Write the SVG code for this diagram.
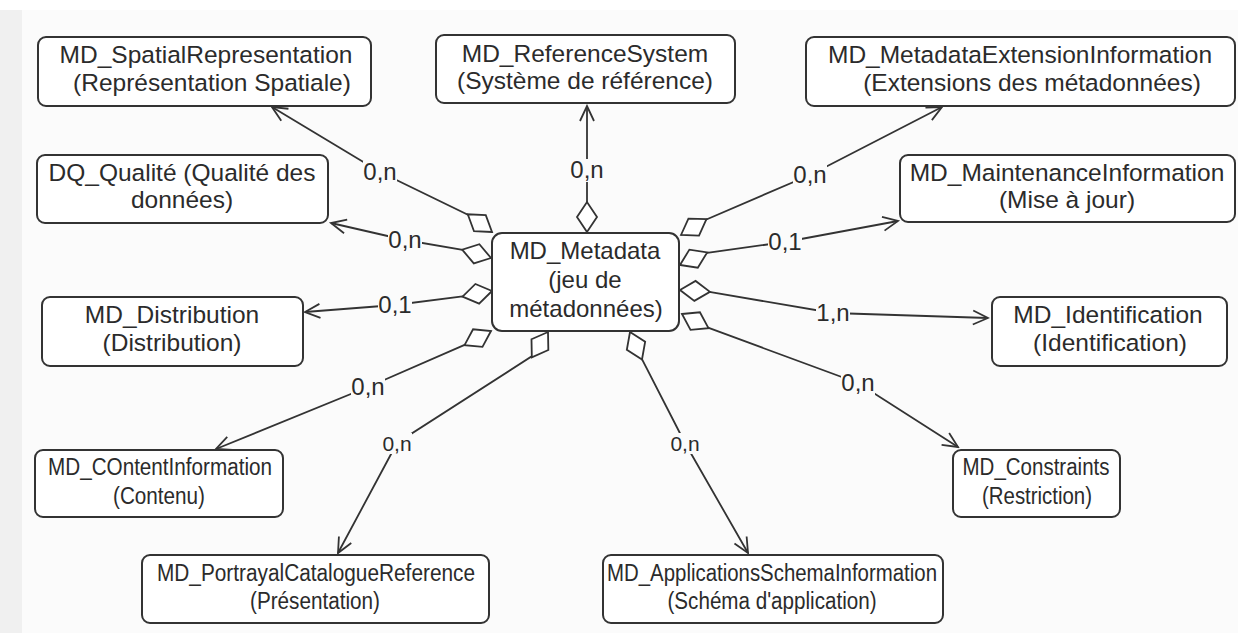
<svg xmlns="http://www.w3.org/2000/svg" width="1238" height="639" viewBox="0 0 1238 639">
<style>
.box{fill:#ffffff;stroke:#333333;stroke-width:2}
.t{font-family:"Liberation Sans",Arial,sans-serif;font-size:24.5px;fill:#2b2b2b;text-anchor:middle}
.ts{font-size:23.5px}
.tc{font-size:24px}
.con{fill:none;stroke:#333333;stroke-width:1.8}
.lb{fill:#fbfbfb}
.lbl{font-family:"Liberation Sans",Arial,sans-serif;font-size:24px;fill:#2b2b2b;text-anchor:middle}
.lbls{font-size:21px}
</style>
<defs>
<marker id="dia" markerUnits="userSpaceOnUse" viewBox="-2 -13 34 26" markerWidth="34" markerHeight="26" refX="0" refY="0" orient="auto">
<path d="M0,0 L15,-10 L30,0 L15,10 Z" fill="#ffffff" stroke="#333333" stroke-width="1.8"/>
</marker>
<marker id="arr" markerUnits="userSpaceOnUse" viewBox="-18 -10 20 20" markerWidth="20" markerHeight="20" refX="0" refY="0" orient="auto">
<path d="M-15,-7 L0,0 L-15,7" fill="none" stroke="#333333" stroke-width="1.8"/>
</marker>
</defs>
<rect x="0" y="0" width="1238" height="639" fill="#fbfbfb"/>
<rect x="0" y="0" width="1238" height="10" fill="#ffffff"/>
<rect x="0" y="10" width="22" height="623" fill="#f0f0f0"/>
<rect x="0" y="633" width="1238" height="6" fill="#ffffff"/>

<g id="connectors">
<polyline class="con" marker-start="url(#dia)" marker-end="url(#arr)" points="492,232 469.4,215.5 380,172 272,107"/>
<polyline class="con" marker-start="url(#dia)" marker-end="url(#arr)" points="491,258 464.1,250.2 405,240 331,223"/>
<polyline class="con" marker-start="url(#dia)" marker-end="url(#arr)" points="492,291 464.5,296.2 395,305 305,312"/>
<polyline class="con" marker-start="url(#dia)" marker-end="url(#arr)" points="491,331 466.3,344.2 368,387 216,449"/>
<polyline class="con" marker-start="url(#dia)" marker-end="url(#arr)" points="548,332 532.9,355.6 397,443 338,553"/>
<polyline class="con" marker-start="url(#dia)" marker-end="url(#arr)" points="630,332 641.2,357.7 685,443 748,553"/>
<polyline class="con" marker-start="url(#dia)" marker-end="url(#arr)" points="682,314 706.7,327.2 858,383 958,447"/>
<polyline class="con" marker-start="url(#dia)" marker-end="url(#arr)" points="680,290 707.9,291.7 833,313 988,318"/>
<polyline class="con" marker-start="url(#dia)" marker-end="url(#arr)" points="680,265 705.4,253.2 785,242 898,221"/>
<polyline class="con" marker-start="url(#dia)" marker-end="url(#arr)" points="681,235 704.7,220.2 810,175 942,107"/>
<polyline class="con" marker-start="url(#dia)" marker-end="url(#arr)" points="587,232 587,204 587,170 587,106"/>
<rect class="lb" x="363" y="161" width="34" height="23"/>
<rect class="lb" x="388" y="229" width="34" height="23"/>
<rect class="lb" x="378" y="294" width="34" height="23"/>
<rect class="lb" x="351" y="376" width="34" height="23"/>
<rect class="lb" x="382" y="433" width="30" height="21"/>
<rect class="lb" x="670" y="433" width="30" height="21"/>
<rect class="lb" x="841" y="372" width="34" height="23"/>
<rect class="lb" x="816" y="302" width="34" height="23"/>
<rect class="lb" x="768" y="231" width="34" height="23"/>
<rect class="lb" x="793" y="164" width="34" height="23"/>
<rect class="lb" x="570" y="159" width="34" height="23"/>
<text class="lbl" x="380" y="180">0,n</text>
<text class="lbl" x="405" y="248">0,n</text>
<text class="lbl" x="395" y="313">0,1</text>
<text class="lbl" x="368" y="395">0,n</text>
<text class="lbl lbls" x="397" y="451">0,n</text>
<text class="lbl lbls" x="685" y="451">0,n</text>
<text class="lbl" x="858" y="391">0,n</text>
<text class="lbl" x="833" y="321">1,n</text>
<text class="lbl" x="785" y="250">0,1</text>
<text class="lbl" x="810" y="183">0,n</text>
<text class="lbl" x="587" y="178">0,n</text>
</g>

<g id="n-spatial">
<rect class="box" x="38" y="37" width="333" height="69" rx="8"/>
<text class="t" x="206" y="63">MD_SpatialRepresentation</text>
<text class="t" x="212" y="91">(Représentation Spatiale)</text>
</g>
<g id="n-qualite">
<rect class="box" x="37" y="155" width="291" height="68" rx="8"/>
<text class="t" x="182" y="181">DQ_Qualité (Qualité des</text>
<text class="t" x="182" y="208">données)</text>
</g>
<g id="n-refsys">
<rect class="box" x="436" y="35" width="299" height="68" rx="8"/>
<text class="t" x="585" y="62">MD_ReferenceSystem</text>
<text class="t" x="585" y="89">(Système de référence)</text>
</g>
<g id="n-extension">
<rect class="box" x="806" y="37" width="429" height="69" rx="8"/>
<text class="t" x="1020" y="63">MD_MetadataExtensionInformation</text>
<text class="t" x="1032" y="91">(Extensions des métadonnées)</text>
</g>
<g id="n-maintenance">
<rect class="box" x="900" y="155" width="335" height="67" rx="8"/>
<text class="t" x="1067" y="181">MD_MaintenanceInformation</text>
<text class="t" x="1067" y="208">(Mise à jour)</text>
</g>
<g id="n-distribution">
<rect class="box" x="42" y="297" width="261" height="69" rx="8"/>
<text class="t" x="172" y="323">MD_Distribution</text>
<text class="t" x="172" y="351">(Distribution)</text>
</g>
<g id="n-metadata">
<rect class="box" x="492" y="233" width="187" height="98" rx="10"/>
<text class="t tc" x="585" y="259">MD_Metadata</text>
<text class="t tc" x="585" y="288">(jeu de</text>
<text class="t tc" x="586" y="317">métadonnées)</text>
</g>
<g id="n-identification">
<rect class="box" x="992" y="297" width="235" height="69" rx="8"/>
<text class="t" x="1108" y="323">MD_Identification</text>
<text class="t" x="1110" y="351">(Identification)</text>
</g>
<g id="n-content">
<rect class="box" x="35" y="450" width="248" height="67" rx="8"/>
<text class="t ts" x="160" y="475" textLength="224" lengthAdjust="spacingAndGlyphs">MD_COntentInformation</text>
<text class="t ts" x="159" y="504" textLength="92" lengthAdjust="spacingAndGlyphs">(Contenu)</text>
</g>
<g id="n-portrayal">
<rect class="box" x="142" y="555" width="347" height="68" rx="8"/>
<text class="t ts" x="316" y="581" textLength="318" lengthAdjust="spacingAndGlyphs">MD_PortrayalCatalogueReference</text>
<text class="t ts" x="315" y="609" textLength="130" lengthAdjust="spacingAndGlyphs">(Présentation)</text>
</g>
<g id="n-applications">
<rect class="box" x="603" y="555" width="340" height="68" rx="8"/>
<text class="t ts" x="772" y="581" textLength="330" lengthAdjust="spacingAndGlyphs">MD_ApplicationsSchemaInformation</text>
<text class="t ts" x="772" y="609" textLength="209" lengthAdjust="spacingAndGlyphs">(Schéma d'application)</text>
</g>
<g id="n-constraints">
<rect class="box" x="953" y="450" width="167" height="67" rx="8"/>
<text class="t ts" x="1036" y="475" textLength="147" lengthAdjust="spacingAndGlyphs">MD_Constraints</text>
<text class="t ts" x="1037" y="504" textLength="110" lengthAdjust="spacingAndGlyphs">(Restriction)</text>
</g>
</svg>
